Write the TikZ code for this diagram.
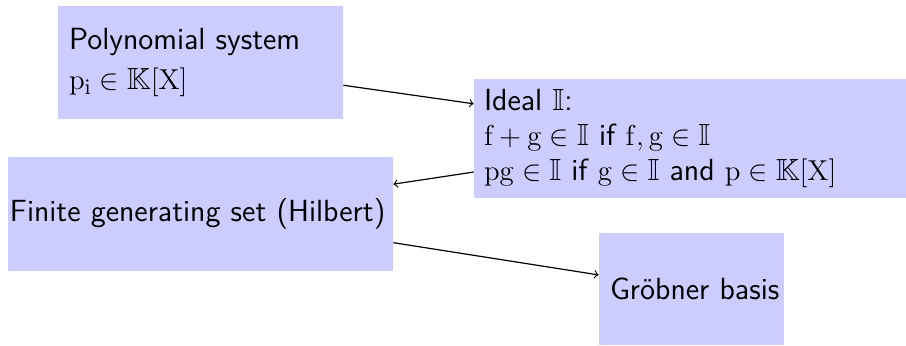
\documentclass[tikz,border=0pt]{standalone}
\usepackage{amssymb}
\usetikzlibrary{calc}
\begin{document}
\begin{tikzpicture}[x=0.5pt,y=-0.5pt,
  box/.style={rectangle, fill=blue!20, inner ysep=0pt, align=left,
    font=\fontsize{15.3}{17.3}\selectfont\sffamily},
  conn/.style={->, line width=0.6pt}]
\useasboundingbox (0,0) rectangle (906,345);
\node[box, inner xsep=5.5pt, minimum width=142.5pt, minimum height=56.5pt, text width=131.5pt]
  (poly) at (200.5,62.5) {Polynomial system\\[2.7pt] $\mathrm{p}_\mathrm{i}\in\mathbb{K}[\mathrm{X}]$};
\node[box, inner xsep=5pt, minimum width=216pt, minimum height=59.5pt, text width=206pt]
  (ideal) at (690,138.5) {Ideal $\mathbb{I}$:\\
  $\mathrm{f}+\mathrm{g}\in\mathbb{I}$ if $\mathrm{f},\mathrm{g}\in\mathbb{I}$\\
  $\mathrm{pg}\in\mathbb{I}$ if $\mathrm{g}\in\mathbb{I}$ and $\mathrm{p}\in\mathbb{K}[\mathrm{X}]$};
\node[box, inner xsep=1pt, minimum width=192.5pt, minimum height=57pt, text width=190.5pt]
  (fin) at (200.5,214) {\mbox{Finite generating set (Hilbert)}};
\node[box, align=center, inner xsep=5.5pt, minimum width=92.5pt, minimum height=56pt, text width=81.5pt]
  (grob) at (691.5,289) {\mbox{Gröbner basis}};
\draw[conn] ($(poly.north east)!0.70!(poly.south east)$) -- ($(ideal.north west)!0.21!(ideal.south west)$);
\draw[conn] ($(ideal.north west)!0.78!(ideal.south west)$) -- ($(fin.north east)!0.24!(fin.south east)$);
\draw[conn] ($(fin.north east)!0.75!(fin.south east)$) -- ($(grob.north west)!0.375!(grob.south west)$);
\end{tikzpicture}
\end{document}
